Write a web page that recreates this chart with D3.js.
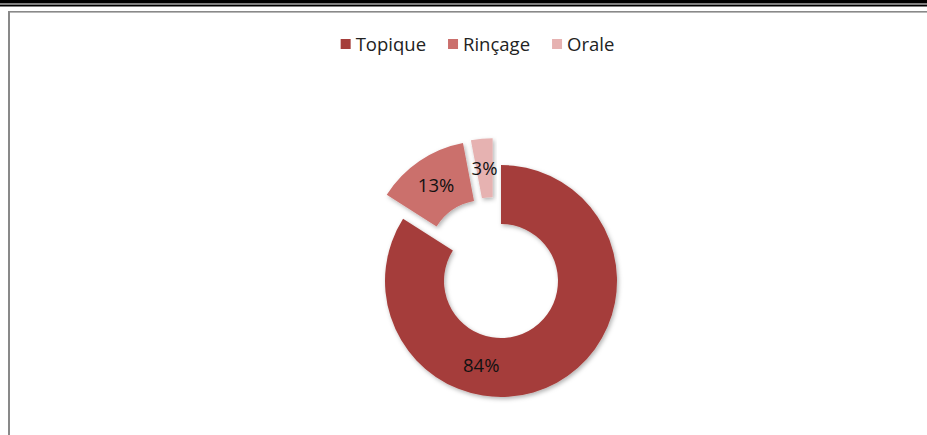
<!DOCTYPE html>
<html>
<head>
<meta charset="utf-8">
<script src="https://cdn.jsdelivr.net/npm/d3@7/dist/d3.min.js"></script>
<style>
  html, body { margin: 0; padding: 0; background: #fff; }
  svg { display: block; }
  text { font-family: "Open Sans", "DejaVu Sans", sans-serif; }
</style>
</head>
<body>
<svg id="chart" width="927" height="435"></svg>
<script>
// Share of each administration route (percent)
const categories = ["Topique", "Rinçage", "Orale"];
const values = [84, 13, 3];
const colors = ["#A53E3B", "#CB6F6C", "#E6B2B1"];

// Slices pulled out of the ring: distance (px) and direction tweak (deg)
const explode = { "Rinçage": { d: 29, turn: 0 }, "Orale": { d: 28, turn: -12 } };
// Angular shift of the value label within its slice (deg)
const labelTurn = { "Topique": 42 };

const W = 927, H = 435;
const cx = 501, cy = 281, R = 116, r0 = 57;

const svg = d3.select("#chart");

// Page frame: double black rule on top, grey chart border
svg.append("rect").attr("x", 0).attr("y", 0).attr("width", W).attr("height", 3.5).attr("fill", "#000");
svg.append("rect").attr("x", 0).attr("y", 4.5).attr("width", W).attr("height", 2).attr("fill", "#000");
svg.append("rect").attr("x", 8).attr("y", 11).attr("width", W - 8).attr("height", 1.6).attr("fill", "#898989");
svg.append("rect").attr("x", 8).attr("y", 11).attr("width", 2).attr("height", H - 11).attr("fill", "#898989");

// Soft shadow under the slices
const defs = svg.append("defs");
const f = defs.append("filter").attr("id", "shadow")
  .attr("x", "-20%").attr("y", "-20%").attr("width", "140%").attr("height", "140%");
f.append("feDropShadow").attr("dx", 1.5).attr("dy", 2).attr("stdDeviation", 2)
  .attr("flood-color", "#000").attr("flood-opacity", 0.3);

const color = d3.scaleOrdinal().domain(categories).range(colors);

const data = categories.map((c, i) => ({ name: c, value: values[i] }));
const pie = d3.pie().value(d => d.value).sort(null).startAngle(0).endAngle(2 * Math.PI);
const arcs = pie(data);
const arc = d3.arc().innerRadius(r0).outerRadius(R);

const deg = Math.PI / 180;
function offsetOf(a) {
  const e = explode[a.data.name];
  if (!e) return [0, 0];
  const m = (a.startAngle + a.endAngle) / 2 + e.turn * deg;
  return [e.d * Math.sin(m), -e.d * Math.cos(m)];
}

const g = svg.append("g").attr("transform", `translate(${cx},${cy})`);

const slices = g.selectAll("g.slice").data(arcs).join("g")
  .attr("class", "slice")
  .attr("transform", a => { const o = offsetOf(a); return `translate(${o[0]},${o[1]})`; });

slices.append("path")
  .attr("d", arc)
  .attr("fill", a => color(a.data.name))
  .attr("filter", "url(#shadow)");

const rl = (R + r0) / 2;
slices.append("text")
  .attr("transform", a => {
    const m = (a.startAngle + a.endAngle) / 2 + (labelTurn[a.data.name] || 0) * deg;
    return `translate(${rl * Math.sin(m)},${-rl * Math.cos(m)})`;
  })
  .attr("text-anchor", "middle")
  .attr("dy", "0.36em")
  .attr("font-size", 18.5)
  .attr("fill", "#111")
  .text(a => a.data.value + "%");

// Legend centred above the ring
const legend = svg.append("g");
let x = 0;
categories.forEach((c, i) => {
  const item = legend.append("g").attr("transform", `translate(${x},0)`);
  item.append("rect").attr("x", 0).attr("y", -6).attr("width", 10).attr("height", 10).attr("fill", color(c));
  const t = item.append("text").attr("x", 15).attr("y", 6).attr("font-size", 18.5).attr("fill", "#222").text(c);
  x += 15 + t.node().getComputedTextLength() + 22;
});
const legW = x - 22;
legend.attr("transform", `translate(${477.5 - legW / 2},45)`);
</script>
</body>
</html>
